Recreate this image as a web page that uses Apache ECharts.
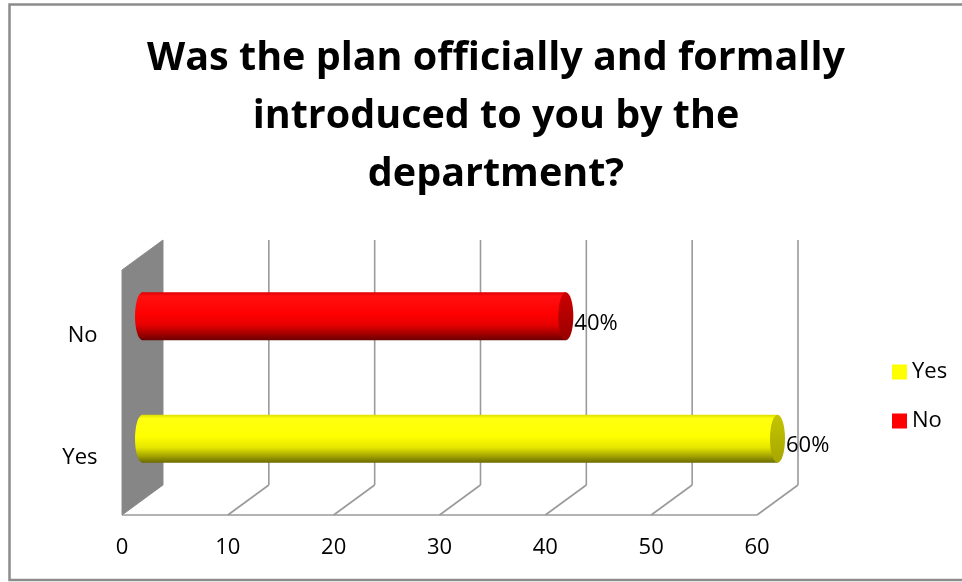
<!DOCTYPE html>
<html>
<head>
<meta charset="utf-8">
<title>Was the plan officially and formally introduced to you by the department?</title>
<script src="https://cdn.jsdelivr.net/npm/echarts@6/dist/echarts.min.js"></script>
<style>
  html, body { margin: 0; padding: 0; background: #fff; }
  #chart { width: 962px; height: 582px; }
</style>
</head>
<body>
<div id="chart"></div>
<script>
// Survey answers
const titleText = 'Was the plan officially and formally\nintroduced to you by the\ndepartment?';
const categories = ['Yes', 'No'];          // bottom to top
const seriesNames = ['Yes', 'No'];
const values = [60, 40];                   // percent of respondents
const xTicks = [0, 10, 20, 30, 40, 50, 60];

// Styling
const FONT = '"Open Sans", "Noto Sans", sans-serif';
const DEPTH_X = 20.5;   // half depth of the pseudo-3D box, horizontal
const DEPTH_Y = 15;     // half depth of the pseudo-3D box, vertical
const palette = {
  Yes: {
    body: ['#dede00', '#ffff10', '#ffff00', '#e6e600', '#a8a800', '#6a6a00'],
    cap: ['#c4c400', '#a6a600']
  },
  No: {
    body: ['#dc0000', '#ff1010', '#ff0000', '#e60000', '#a80000', '#6a0000'],
    cap: ['#cc0000', '#990000']
  }
};
const legendColors = { Yes: '#ffff00', No: '#ff0000' };

function bodyGradient(stops) {
  const pos = [0, 0.08, 0.45, 0.68, 0.85, 1];
  return new echarts.graphic.LinearGradient(0, 0, 0, 1,
    stops.map((c, i) => ({ offset: pos[i], color: c })));
}

// Back wall, side wall and floor of the 3D plot box
function renderFrame(params, api) {
  const cs = params.coordSys;
  const top = cs.y, bottom = cs.y + cs.height;
  const lineStyle = { stroke: '#9a9a9a', lineWidth: 1.6 };
  const children = [];
  const x0 = api.coord([xTicks[0], 0])[0];
  const xEnd = api.coord([xTicks[xTicks.length - 1], 0])[0];

  // side wall (left)
  children.push({
    type: 'polygon',
    shape: { points: [
      [x0 - DEPTH_X, bottom + DEPTH_Y],
      [x0 + DEPTH_X, bottom - DEPTH_Y],
      [x0 + DEPTH_X, top - DEPTH_Y],
      [x0 - DEPTH_X, top + DEPTH_Y]
    ] },
    style: { fill: '#868686', stroke: '#8a8a8a', lineWidth: 1 }
  });
  // floor front edge
  children.push({
    type: 'line',
    shape: { x1: x0 - DEPTH_X, y1: bottom + DEPTH_Y, x2: xEnd - DEPTH_X, y2: bottom + DEPTH_Y },
    style: lineStyle
  });
  xTicks.slice(1).forEach(v => {
    const x = api.coord([v, 0])[0];
    // floor diagonal
    children.push({
      type: 'line',
      shape: { x1: x - DEPTH_X, y1: bottom + DEPTH_Y, x2: x + DEPTH_X, y2: bottom - DEPTH_Y },
      style: lineStyle
    });
    // back wall gridline
    children.push({
      type: 'line',
      shape: { x1: x + DEPTH_X, y1: bottom - DEPTH_Y, x2: x + DEPTH_X, y2: top - DEPTH_Y },
      style: lineStyle
    });
  });
  return { type: 'group', children };
}

// Horizontal cylinder for one answer
function renderCylinder(params, api) {
  const name = seriesNames[params.seriesIndex - 1];
  const pal = palette[name];
  const v = api.value(0);
  const start = api.coord([0, api.value(1)]);
  const end = api.coord([v, api.value(1)]);
  const band = api.size([0, 1])[1];
  const h = band * 0.392;
  const r = h / 2;
  const rx = 7.5;
  const cy = start[1];
  return {
    type: 'group',
    children: [
      { type: 'ellipse', shape: { cx: start[0], cy, rx, ry: r }, style: { fill: bodyGradient(pal.body) } },
      { type: 'rect', shape: { x: start[0], y: cy - r, width: end[0] - start[0], height: h }, style: { fill: bodyGradient(pal.body) } },
      { type: 'ellipse', shape: { cx: end[0], cy, rx, ry: r },
        style: { fill: new echarts.graphic.LinearGradient(0, 0, 0, 1, [
          { offset: 0, color: pal.cap[0] }, { offset: 1, color: pal.cap[1] }]) } },
      { type: 'text', x: end[0] + rx + 1, y: cy + 7,
        style: { text: v + '%', fill: '#000', font: '22px ' + FONT, textAlign: 'left', textVerticalAlign: 'middle' } }
    ]
  };
}

const chart = echarts.init(document.getElementById('chart'), null, { renderer: 'canvas' });

const series = [{
  type: 'custom',
  name: 'frame',
  silent: true,
  z: 1,
  data: [[0, 0]],
  renderItem: renderFrame
}].concat(seriesNames.map((name, i) => ({
  type: 'custom',
  name,
  z: 2,
  color: legendColors[name],
  data: [[values[i], categories.indexOf(name)]],
  renderItem: renderCylinder
})));

chart.setOption({
  animation: false,
  backgroundColor: '#fff',
  graphic: [{
    type: 'rect',
    z: -10,
    shape: { x: 9.5, y: 4.5, width: 1000, height: 575.5 },
    style: { fill: 'none', stroke: '#8c8c8c', lineWidth: 2.5 }
  }],
  title: {
    text: titleText,
    left: 491,
    top: 25,
    textAlign: 'center',
    textStyle: { fontFamily: FONT, fontWeight: 'bold', fontSize: 39.5, lineHeight: 58, color: '#000' }
  },
  legend: {
    data: seriesNames,
    orient: 'vertical',
    left: 887,
    top: 356,
    icon: 'rect',
    itemWidth: 15,
    itemHeight: 15,
    itemGap: 27,
    textStyle: { fontFamily: FONT, fontSize: 22, color: '#000' }
  },
  grid: { left: 142.5, top: 255, width: 635, height: 245, containLabel: false },
  xAxis: {
    type: 'value',
    min: 0,
    max: 60,
    interval: 10,
    axisLine: { show: false },
    axisTick: { show: false },
    splitLine: { show: false },
    axisLabel: { fontFamily: FONT, fontSize: 22, color: '#000', margin: 37, padding: [0, 41, 0, 0] }
  },
  yAxis: {
    type: 'category',
    data: categories,
    axisLine: { show: false },
    axisTick: { show: false },
    splitLine: { show: false },
    axisLabel: { fontFamily: FONT, fontSize: 22, color: '#000', margin: 45, verticalAlign: 'top', padding: [8, 0, 0, 0] }
  },
  series
});
</script>
</body>
</html>
